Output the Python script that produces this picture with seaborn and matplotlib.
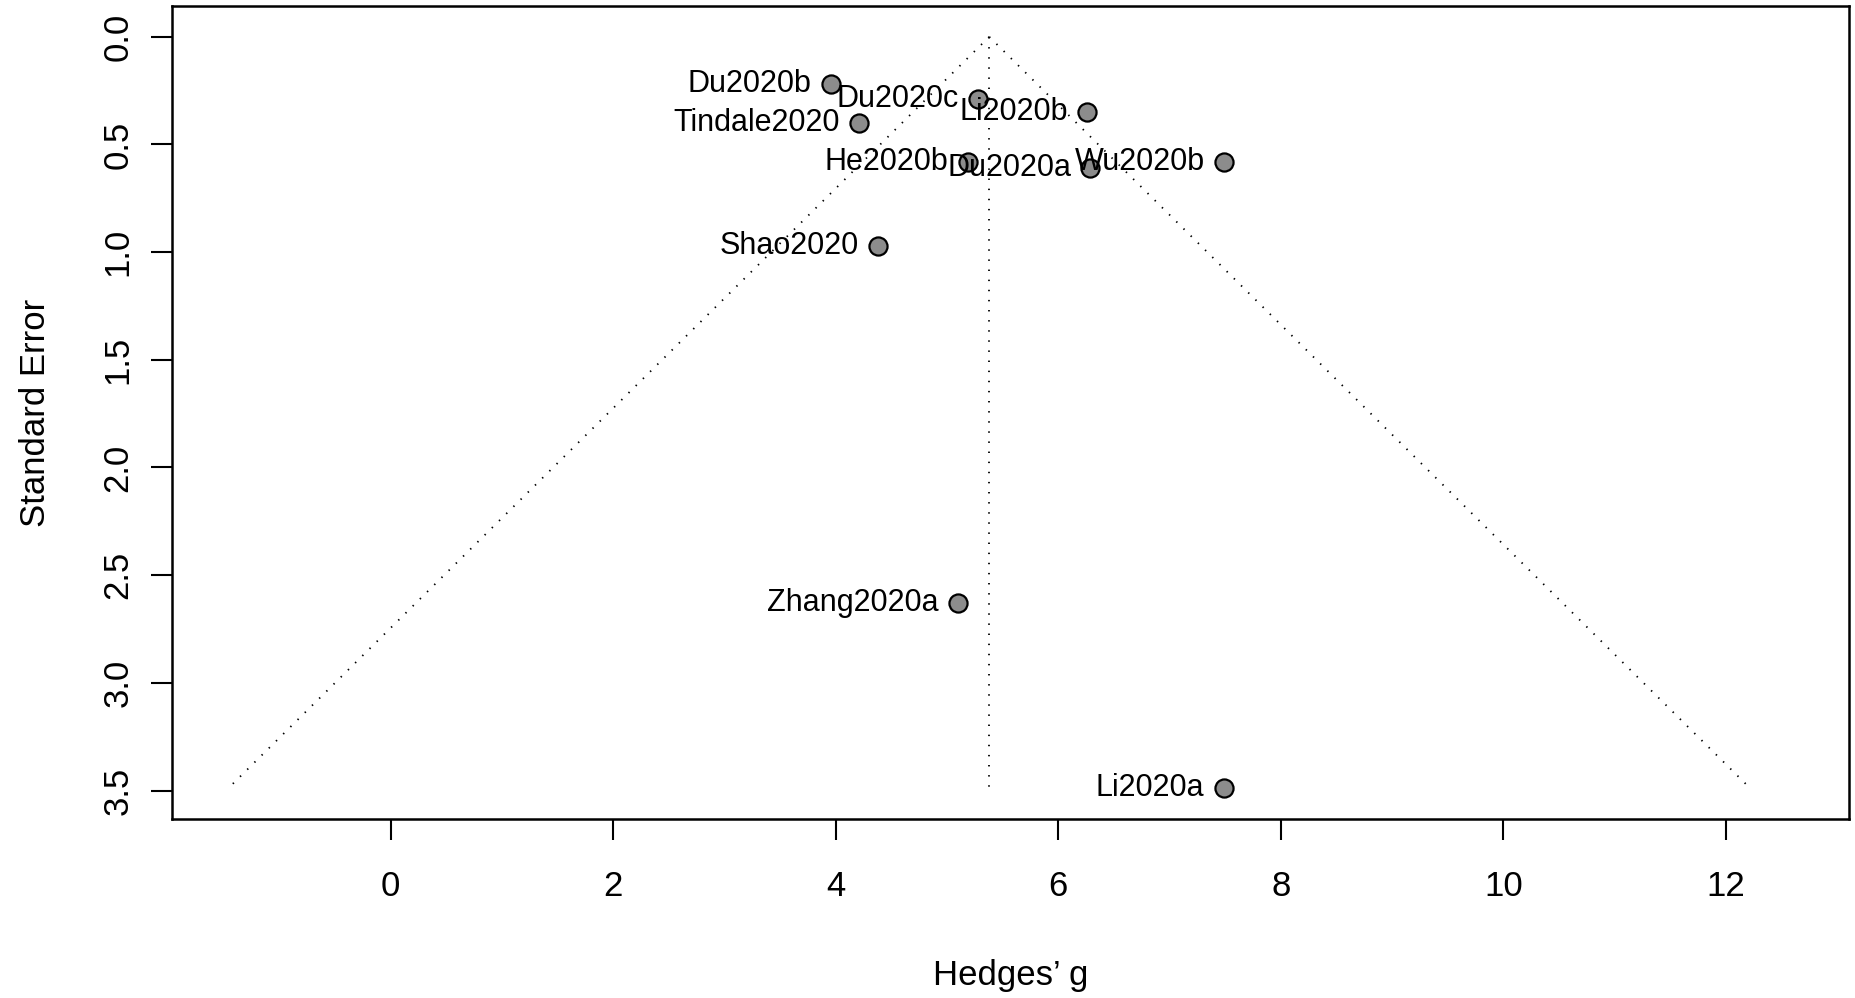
import matplotlib
matplotlib.use("Agg")
import matplotlib.pyplot as plt
import seaborn as sns
import numpy as np
import pandas as pd

# study estimates
studies = ["Du2020b", "Du2020c", "Li2020b", "Tindale2020", "He2020b",
           "Du2020a", "Wu2020b", "Shao2020", "Zhang2020a", "Li2020a"]
hedges_g = [3.96, 5.28, 6.26, 4.21, 5.19, 6.29, 7.49, 4.38, 5.10, 7.49]
std_err = [0.22, 0.29, 0.35, 0.40, 0.58, 0.61, 0.58, 0.97, 2.63, 3.49]

# pooled estimate and funnel depth
pooled = 5.38
se_max = 3.49

df = pd.DataFrame({"study": studies, "g": hedges_g, "se": std_err})

sns.set_style("white")
plt.rcParams["font.family"] = ["Liberation Sans", "DejaVu Sans"]
plt.rcParams["text.color"] = "black"
plt.rcParams["axes.labelcolor"] = "black"
plt.rcParams["xtick.color"] = "black"
plt.rcParams["ytick.color"] = "black"

fig = plt.figure(figsize=(18.56, 9.98), dpi=100)
ax = fig.add_axes([0.0927, 0.1794, 0.9035, 0.8146])

# funnel (pseudo 95% limits) and centre line
se_line = np.array([0.0, se_max])
dots = dict(color="black", lw=1.3, linestyle=(0, (0.8, 4.8)))
ax.plot(pooled - 1.96 * se_line, se_line, **dots)
ax.plot(pooled + 1.96 * se_line, se_line, **dots)
ax.plot([pooled, pooled], [0, se_max], **dots)

sns.scatterplot(data=df, x="g", y="se", ax=ax, s=170, color="#8c8c8c",
                edgecolor="black", linewidth=1.6, zorder=3, legend=False)

for _, r in df.iterrows():
    ax.annotate(r["study"], (r["g"], r["se"]), xytext=(-14, 0),
                textcoords="offset points", ha="right", va="center",
                fontsize=22, color="black")

ax.set_xlim(-1.965, 13.107)
ax.set_ylim(3.632, -0.143)
ax.set_xticks(range(0, 13, 2))
ax.set_yticks(np.arange(0, 3.51, 0.5))
ax.set_yticklabels([f"{v:.1f}" for v in np.arange(0, 3.51, 0.5)],
                   rotation=90, va="center")
ax.tick_params(axis="both", labelsize=25, length=15, width=1.5,
               direction="out", bottom=True, left=True, pad=22,
               colors="black")
ax.tick_params(axis="y", pad=12)
for sp in ax.spines.values():
    sp.set_linewidth(1.8)
    sp.set_color("black")

ax.set_xlabel("Hedges\u2019 g", fontsize=25, labelpad=40)
ax.set_ylabel("Standard Error", fontsize=25, labelpad=36)

fig.savefig("out.png", dpi=100)
